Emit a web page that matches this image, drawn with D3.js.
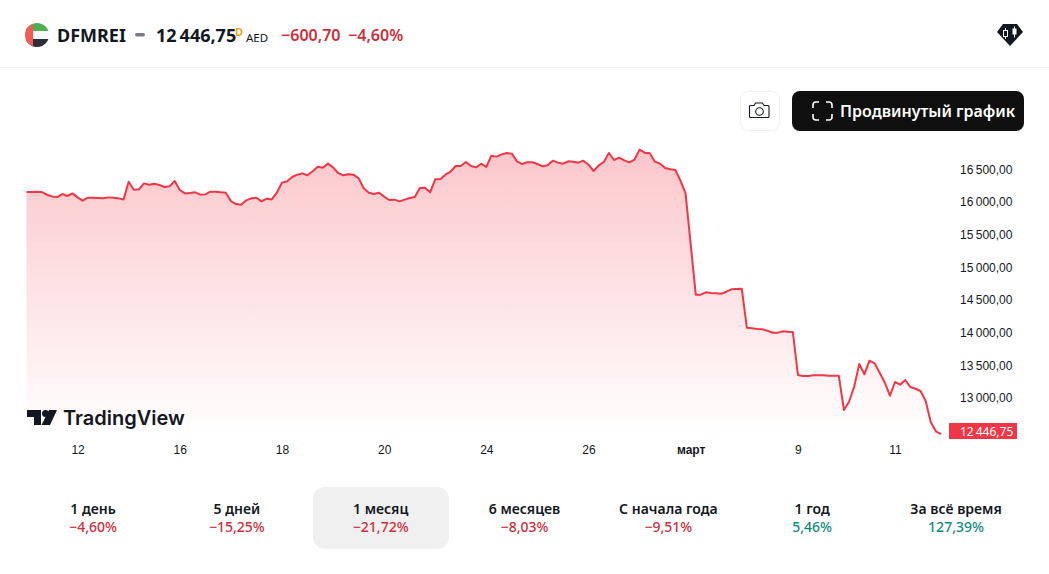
<!DOCTYPE html>
<html>
<head>
<meta charset="utf-8">
<script src="https://cdn.jsdelivr.net/npm/d3@7"></script>
<style>
  html, body { margin: 0; padding: 0; background: #fff; overflow: hidden; }
  svg { display: block; font-family: "Noto Sans", sans-serif; }
</style>
</head>
<body>
<svg id="chart" width="1049" height="574"></svg>
<script>
// closing prices
const closes = [
  16155, 16155, 16160, 16155, 16114, 16088, 16078, 16124, 16094, 16134,
  16073, 16022, 16068, 16068, 16063, 16058, 16073, 16068, 16058, 16042,
  16313, 16191, 16196, 16288, 16267, 16283, 16262, 16232, 16242, 16324,
  16186, 16134, 16140, 16150, 16114, 16119, 16160, 16160, 16150, 16145,
  16017, 15971, 15961, 16027, 16058, 16068, 16012, 16053, 16042, 16145,
  16298, 16319, 16385, 16421, 16441, 16411, 16472, 16543, 16528, 16590,
  16533, 16446, 16411, 16426, 16421, 16365, 16212, 16145, 16125, 16145,
  16084, 16033, 16038, 16012, 16038, 16064, 16079, 16217, 16222, 16150,
  16350, 16350, 16421, 16467, 16554, 16554, 16615, 16554, 16533, 16589,
  16538, 16712, 16697, 16732, 16753, 16743, 16625, 16584, 16610, 16610,
  16584, 16549, 16564, 16635, 16605, 16589, 16625, 16620, 16605, 16635,
  16574, 16477, 16564, 16615, 16753, 16646, 16681, 16640, 16610, 16651,
  16804, 16758, 16748, 16620, 16589, 16523, 16503, 16492, 16329, 16135,
  15359, 14582, 14582, 14619, 14608, 14603, 14597, 14628, 14665, 14669,
  14674, 14077, 14067, 14057, 14052, 14031, 14000, 14000, 14021, 14015,
  14011, 13352, 13337, 13337, 13347, 13347, 13347, 13341, 13341, 13341,
  12816, 12943, 13173, 13520, 13363, 13571, 13531, 13387, 13234, 13035,
  13245, 13204, 13275, 13168, 13142, 13107, 12954, 12628, 12490, 12446.75
];

const xTickIndex = [10, 30, 50, 70, 90, 110, 130, 151, 170];
const xTickLabels = ["12", "16", "18", "20", "24", "26", "март", "9", "11"];
const yTicks = [13000, 13500, 14000, 14500, 15000, 15500, 16000, 16500];

const periods = ["1 день", "5 дней", "1 месяц", "6 месяцев", "С начала года", "1 год", "За всё время"];
const periodChanges = [-4.60, -15.25, -21.72, -8.03, -9.51, 5.46, 127.39];
const activePeriod = "1 месяц";

const lastPrice = 12446.75;
const red = "#f23645", redText = "#cc2f3c", greenText = "#0f8a7e", ink = "#131722";

const svg = d3.select("#chart");

// thin space for thousands, comma for decimals
const money = (v) => d3.format(",.2f")(v).replace(/,/g, "\u202f").replace(".", ",");
const pct = (v) => (v < 0 ? "\u2212" : "") + Math.abs(v).toFixed(2).replace(".", ",") + "%";

const x = d3.scaleLinear().domain([0, closes.length - 1]).range([26.5, 941]);
const y = d3.scaleLinear().domain([13000, 16500]).range([398, 169.5]);

const grad = svg.append("defs").append("linearGradient")
  .attr("id", "fade").attr("gradientUnits", "userSpaceOnUse")
  .attr("x1", 0).attr("x2", 0).attr("y1", 149).attr("y2", 436);
grad.append("stop").attr("offset", 0).attr("stop-color", red).attr("stop-opacity", 0.28);
grad.append("stop").attr("offset", 1).attr("stop-color", red).attr("stop-opacity", 0);

// header
svg.append("line").attr("x1", 0).attr("x2", 1049).attr("y1", 67.5).attr("y2", 67.5).attr("stroke", "#eeeeee");

const flag = svg.append("g");
const clip = svg.select("defs").append("clipPath").attr("id", "flagClip");
clip.append("circle").attr("cx", 37).attr("cy", 35).attr("r", 12);
flag.attr("clip-path", "url(#flagClip)");
flag.append("rect").attr("x", 25).attr("y", 23).attr("width", 24).attr("height", 8).attr("fill", "#4caf50");
flag.append("rect").attr("x", 25).attr("y", 31).attr("width", 24).attr("height", 8).attr("fill", "#f6f8fd");
flag.append("rect").attr("x", 25).attr("y", 39).attr("width", 24).attr("height", 8).attr("fill", "#2a2e39");
flag.append("rect").attr("x", 25).attr("y", 23).attr("width", 8).attr("height", 24).attr("fill", "#f25c54");

function label(sel, text, xPos, yPos, size, weight, fill, anchor) {
  return sel.append("text").text(text)
    .attr("x", xPos).attr("y", yPos)
    .attr("font-size", size).attr("font-weight", weight)
    .attr("fill", fill).attr("text-anchor", anchor || "start");
}

label(svg, "DFMREI", 57, 42, 18, 700, ink);
svg.append("rect").attr("x", 135).attr("y", 33).attr("width", 10).attr("height", 3.5).attr("rx", 1.7).attr("fill", "#787b86");
label(svg, money(lastPrice), 156, 42, 18, 700, ink);
label(svg, "D", 235, 36, 11, 600, "#ff9800");
label(svg, "AED", 246, 42, 11.5, 400, ink);
label(svg, "\u2212600,70", 281, 41, 16, 600, redText);
label(svg, pct(-4.60), 348, 41, 16, 600, redText);

// diamond badge
svg.append("path").attr("d", "M1003 24H1017L1023 32L1010 46L997 32Z").attr("fill", ink);
svg.append("path").attr("d", "M1005.5 28v11M1014.5 26.5v11").attr("stroke", "#fff").attr("stroke-width", 1);
svg.append("rect").attr("x", 1003.5).attr("y", 30.5).attr("width", 4).attr("height", 6).attr("fill", ink).attr("stroke", "#fff");
svg.append("rect").attr("x", 1012.5).attr("y", 28.5).attr("width", 4).attr("height", 6).attr("fill", "#fff");

// buttons
svg.append("rect").attr("x", 740.5).attr("y", 91.5).attr("width", 39).attr("height", 39).attr("rx", 8).attr("fill", "#fff").attr("stroke", "#f0f0f0");
svg.append("path")
  .attr("d", "M750.5 105.5h3.5l1.5-2.5h7l1.5 2.5h4a1 1 0 0 1 1 1v10a1 1 0 0 1-1 1h-17.5a1 1 0 0 1-1-1v-10a1 1 0 0 1 1-1z")
  .attr("fill", "none").attr("stroke", ink).attr("stroke-width", 1.1);
svg.append("circle").attr("cx", 759.5).attr("cy", 111.5).attr("r", 3.8).attr("fill", "none").attr("stroke", ink).attr("stroke-width", 1.1);

svg.append("rect").attr("x", 792).attr("y", 91).attr("width", 232).attr("height", 40).attr("rx", 8).attr("fill", "#0f0f0f");
svg.append("path")
  .attr("d", "M813 108v-3a3 3 0 0 1 3-3h3M826 102h3a3 3 0 0 1 3 3v3M832 114v3a3 3 0 0 1-3 3h-3M819 120h-3a3 3 0 0 1-3-3v-3")
  .attr("fill", "none").attr("stroke", "#fff").attr("stroke-width", 1.6);
label(svg, "Продвинутый график", 840, 117, 16, 600, "#fff");

// price area and line
const area = d3.area().x((d, i) => x(i)).y0(y(12400)).y1((d) => y(d));
const line = d3.line().x((d, i) => x(i)).y((d) => y(d));

svg.append("path").datum(closes).attr("d", area).attr("fill", "url(#fade)");
svg.append("path").datum(closes).attr("d", line)
  .attr("fill", "none").attr("stroke", red).attr("stroke-width", 2).attr("stroke-linejoin", "round");

// axes
const yAxis = svg.append("g").attr("transform", "translate(960,0)")
  .call(d3.axisRight(y).tickValues(yTicks).tickSize(0).tickPadding(0).tickFormat(money));
yAxis.select(".domain").remove();
yAxis.selectAll("text").attr("font-size", 12).attr("font-family", "inherit").attr("fill", ink);

const xAxis = svg.append("g").attr("transform", "translate(0,445)")
  .call(d3.axisBottom(x).tickValues(xTickIndex).tickSize(0).tickPadding(0)
    .tickFormat((d, i) => xTickLabels[i]));
xAxis.select(".domain").remove();
xAxis.selectAll("text").attr("font-size", 12).attr("font-family", "inherit").attr("fill", ink)
  .attr("font-weight", (d, i) => (xTickLabels[i] === "март" ? 700 : 400));

// last price tag
svg.append("rect").attr("x", 949).attr("y", 423).attr("width", 68).attr("height", 16).attr("fill", red);
label(svg, money(lastPrice), 960, 435.5, 12, 400, "#fff");

// TradingView mark
const logo = svg.append("g").attr("transform", "translate(27,410)").attr("fill", ink);
logo.append("path").attr("d", "M0 0H14V15H7V7H0Z");
logo.append("circle").attr("cx", 18.5).attr("cy", 3.5).attr("r", 3.5);
logo.append("path").attr("d", "M22 0H30L23 15H14.5Z");
label(svg, "TradingView", 63, 425, 20, 600, ink).attr("font-family", "Inter");

// period tabs
const tabX = d3.scalePoint().domain(periods).range([93, 956]);

svg.append("rect").attr("x", 313).attr("y", 487).attr("width", 136).attr("height", 62).attr("rx", 12).attr("fill", "#f0f0f0");

const tabs = svg.append("g").selectAll("g").data(periods).enter().append("g")
  .attr("transform", (d) => `translate(${tabX(d)},0)`);
tabs.append("text").text((d) => d)
  .attr("y", 514).attr("text-anchor", "middle")
  .attr("font-size", 14).attr("font-weight", 600).attr("fill", ink);
tabs.append("text").text((d, i) => pct(periodChanges[i]))
  .attr("y", 532).attr("text-anchor", "middle")
  .attr("font-size", 14).attr("font-weight", 500)
  .attr("fill", (d, i) => (periodChanges[i] < 0 ? redText : greenText));
</script>
</body>
</html>
